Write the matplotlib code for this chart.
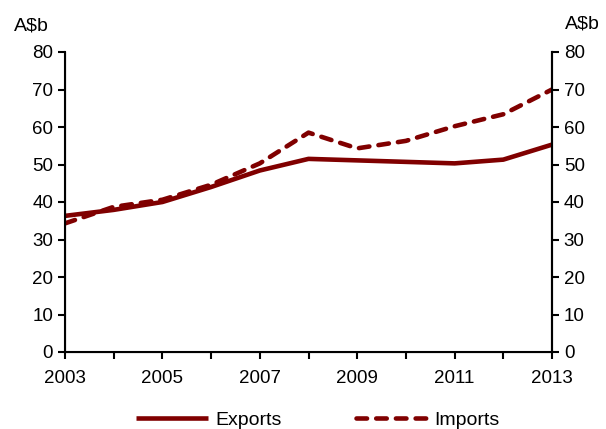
import matplotlib
matplotlib.use("Agg")
import matplotlib.pyplot as plt

years = [2003, 2004, 2005, 2006, 2007, 2008, 2009, 2010, 2011, 2012, 2013]
exports = [36.3, 37.9, 40.0, 44.0, 48.4, 51.5, 51.1, 50.7, 50.3, 51.3, 55.3]
imports = [34.3, 38.7, 40.6, 44.6, 50.3, 58.5, 54.3, 56.3, 60.2, 63.4, 70.0]
yticks = [0, 10, 20, 30, 40, 50, 60, 70, 80]
xticks = [2003, 2005, 2007, 2009, 2011, 2013]

plt.rcParams['font.family'] = ['Liberation Sans', 'DejaVu Sans']
color = '#800000'
fs = 13.5

fig = plt.figure(figsize=(6.06, 4.29), dpi=100)
ax = fig.add_axes([65/606, 1-352/429, (552-65)/606, (352-52)/429])
ax.plot(years, exports, color=color, lw=3.3, label='Exports', solid_capstyle='butt')
ax.plot(years, imports, color=color, lw=3.3, ls=(0, (2.3, 2.0)), label='Imports',
        dash_capstyle='round')
ax.set_xlim(2003, 2013)
ax.set_ylim(0, 80)
ax.set_yticks(yticks)
ax.set_xticks(years, minor=False)
ax.set_xticklabels([str(y) if y in xticks else '' for y in years])
for s in ['left', 'right', 'bottom']:
    ax.spines[s].set_linewidth(1.5)
ax.spines['top'].set_visible(False)
ax.tick_params(axis='both', direction='out', length=5, width=1.5, labelsize=fs)
ax.tick_params(axis='x', pad=8)
ax2 = ax.twinx()
ax2.set_ylim(0, 80)
ax2.set_yticks(yticks)
ax2.spines['top'].set_visible(False)
ax2.spines['right'].set_linewidth(1.5)
ax2.tick_params(axis='y', direction='out', length=5, width=1.5, labelsize=fs)

fig.text(31/606, 1-25.5/429, 'A$b', fontsize=fs + 0.5, ha='center', va='center')
fig.text(582/606, 1-23.5/429, 'A$b', fontsize=fs + 0.5, ha='center', va='center')

leg = fig.legend(*ax.get_legend_handles_labels(), loc='center',
                 bbox_to_anchor=(318/606, 1-420/429), ncol=2, frameon=False,
                 fontsize=14, handlelength=3.7, columnspacing=3.8, handletextpad=0.35)
fig.savefig('out.png', dpi=100)
